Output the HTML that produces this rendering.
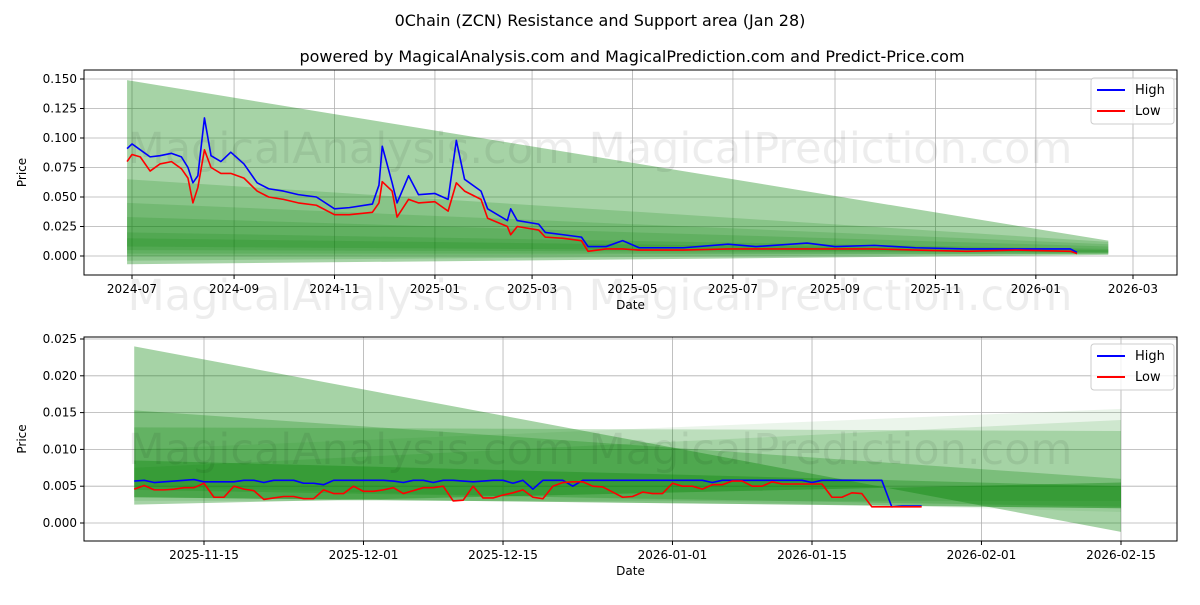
<!DOCTYPE html>
<html><head><meta charset="utf-8"><style>
body{margin:0;background:#fff;}
svg text{font-family:"DejaVu Sans","Liberation Sans",sans-serif;}
</style></head><body>
<svg id="c" width="1200" height="600" xmlns="http://www.w3.org/2000/svg">
<rect width="1200" height="600" fill="#fff"/>
<text x="600" y="26" text-anchor="middle" font-size="16">0Chain (ZCN) Resistance and Support area (Jan 28)</text>
<text x="632" y="62" text-anchor="middle" font-size="16">powered by MagicalAnalysis.com and MagicalPrediction.com and Predict-Price.com</text>
</svg>
<script>
// ---- top chart data ----
const topDates=["2024-06-28","2024-07-01","2024-07-06","2024-07-12","2024-07-18","2024-07-25","2024-07-31","2024-08-04","2024-08-07","2024-08-10","2024-08-14","2024-08-18","2024-08-24","2024-08-30","2024-09-07","2024-09-15","2024-09-22","2024-10-01","2024-10-10","2024-10-21","2024-11-01","2024-11-10","2024-11-24","2024-11-28","2024-11-30","2024-12-06","2024-12-09","2024-12-16","2024-12-22","2025-01-01","2025-01-09","2025-01-14","2025-01-19","2025-01-29","2025-02-02","2025-02-14","2025-02-16","2025-02-20","2025-03-05","2025-03-09","2025-03-20","2025-03-31","2025-04-04","2025-04-15","2025-04-25","2025-05-05","2025-06-01","2025-06-28","2025-07-15","2025-08-15","2025-09-01","2025-09-25","2025-10-20","2025-11-20","2025-12-20","2026-01-22","2026-01-26"];
const topHigh=[0.091,0.095,0.090,0.084,0.085,0.087,0.084,0.075,0.062,0.068,0.117,0.085,0.080,0.088,0.078,0.062,0.057,0.055,0.052,0.050,0.040,0.041,0.044,0.060,0.093,0.062,0.045,0.068,0.052,0.053,0.048,0.098,0.065,0.055,0.040,0.030,0.040,0.030,0.027,0.020,0.018,0.016,0.008,0.008,0.013,0.007,0.007,0.010,0.008,0.011,0.008,0.009,0.007,0.006,0.006,0.006,0.003];
const topLow=[0.080,0.086,0.084,0.072,0.078,0.080,0.074,0.066,0.045,0.058,0.090,0.075,0.070,0.070,0.066,0.055,0.050,0.048,0.045,0.043,0.035,0.035,0.037,0.045,0.063,0.055,0.033,0.048,0.045,0.046,0.038,0.062,0.055,0.048,0.032,0.025,0.018,0.025,0.022,0.016,0.015,0.013,0.004,0.006,0.006,0.005,0.005,0.006,0.006,0.006,0.006,0.006,0.005,0.004,0.005,0.004,0.002];
const topTicks=["2024-07","2024-09","2024-11","2025-01","2025-03","2025-05","2025-07","2025-09","2025-11","2026-01","2026-03"];
const topYTicks=[0,0.025,0.05,0.075,0.1,0.125,0.15];
const topBandTopStart=[0.149,0.065,0.045,0.033,0.020,0.015];
const topBandBotStart=[-0.007,-0.004,0.000,0.002,0.005,0.008];
const topBandTopEnd=[0.013,0.012,0.010,0.008,0.006,0.005];
const topBandBotEnd=[0.001,0.002,0.002,0.002,0.003,0.003];
// ---- bottom chart data ----
const botStart="2025-11-08";
const botHigh=[0.0057,0.0058,0.0055,0.0056,0.0057,0.0058,0.0059,0.0056,0.0056,0.0056,0.0056,0.0058,0.0058,0.0055,0.0058,0.0058,0.0058,0.0054,0.0054,0.0052,0.0058,0.0058,0.0058,0.0058,0.0058,0.0058,0.0057,0.0055,0.0058,0.0058,0.0055,0.0058,0.0058,0.0057,0.0056,0.0057,0.0058,0.0058,0.0054,0.0058,0.0046,0.0058,0.0058,0.0058,0.0050,0.0058,0.0058,0.0058,0.0058,0.0058,0.0058,0.0058,0.0058,0.0058,0.0058,0.0058,0.0058,0.0058,0.0055,0.0058,0.0058,0.0058,0.0058,0.0058,0.0058,0.0058,0.0058,0.0058,0.0055,0.0058,0.0058,0.0058,0.0058,0.0058,0.0058,0.0058,0.0022,0.0023,0.0023,0.0023];
const botLow=[0.0046,0.0051,0.0045,0.0045,0.0046,0.0048,0.0048,0.0054,0.0035,0.0035,0.0050,0.0046,0.0044,0.0032,0.0034,0.0036,0.0036,0.0033,0.0033,0.0045,0.0040,0.0040,0.0050,0.0043,0.0043,0.0045,0.0048,0.0040,0.0044,0.0048,0.0048,0.0050,0.0030,0.0031,0.0050,0.0034,0.0034,0.0038,0.0041,0.0045,0.0035,0.0033,0.0050,0.0055,0.0056,0.0056,0.0050,0.0049,0.0042,0.0035,0.0036,0.0042,0.0040,0.0040,0.0054,0.0050,0.0050,0.0046,0.0052,0.0052,0.0057,0.0057,0.0050,0.0050,0.0056,0.0053,0.0053,0.0053,0.0053,0.0053,0.0035,0.0035,0.0041,0.0040,0.0022,0.0022,0.0022,0.0022,0.0022,0.0022];
const botTicks=["2025-11-15","2025-12-01","2025-12-15","2026-01-01","2026-01-15","2026-02-01","2026-02-15"];
const botYTicks=[0,0.005,0.01,0.015,0.02,0.025];
const botBandTopStart=[0.024,0.0153,0.0130,0.0100,0.0085,0.0075];
const botBandBotStart=[0.0025,0.0035,0.0045,0.0050,0.0035,0.0030];
const botBandTopEnd=[-0.0012,0.0060,0.0125,0.0155,0.0050,0.0140];
const botBandBotEnd=[0.0055,0.0020,0.0022,0.0015,0.0020,0.0030];
const botBandOpacity=[0.35,0.25,0.2,0.08,0.3,0.12];

const NS="http://www.w3.org/2000/svg";
const svg=document.getElementById('c');
const day=s=>Date.parse(s)/86400000;
function mk(tag,attrs,parent){const e=document.createElementNS(NS,tag);for(const k in attrs)e.setAttribute(k,attrs[k]);(parent||svg).appendChild(e);return e;}

function axes(box,xs,ys,xTicks,yTicks,name){
  const g=mk('g',{});
  
  
  xTicks.forEach(t=>{const x=xs(day(t));
    const l=mk('line',{x1:x,x2:x,y1:box.t,y2:box.b,stroke:'#b0b0b0','stroke-width':0.8},g);
    
    mk('line',{x1:x,x2:x,y1:box.b,y2:box.b+4,stroke:'#000'},g);
    const tx=mk('text',{x:x,y:box.b+18,'text-anchor':'middle','font-size':12},g);tx.textContent=t;
    });
  yTicks.forEach(v=>{const y=ys(v);
    const l=mk('line',{x1:box.l,x2:box.r,y1:y,y2:y,stroke:'#b0b0b0','stroke-width':0.8},g);
    
    mk('line',{x1:box.l-4,x2:box.l,y1:y,y2:y,stroke:'#000'},g);
    const tx=mk('text',{x:box.l-7,y:y+4,'text-anchor':'end','font-size':12},g);tx.textContent=v.toFixed(3);
    });
  const xt=mk('text',{x:(box.l+box.r)/2,y:box.b+34,'text-anchor':'middle','font-size':12},g);xt.textContent='Date';
  
  const cy=(box.t+box.b)/2;
  const yt=mk('text',{x:26,y:cy,'text-anchor':'middle','font-size':12,transform:`rotate(-90 26 ${cy})`},g);yt.textContent='Price';
  
}
function bands(xs,ys,d0,d1,ts,bs,te,be,op,name){
  ts.forEach((_,i)=>{const x0=xs(day(d0)),x1=xs(day(d1));
    const p=mk('polygon',{points:`${x0},${ys(ts[i])} ${x1},${ys(te[i])} ${x1},${ys(be[i])} ${x0},${ys(bs[i])}`,fill:'#008000','fill-opacity':op[i]});
    });
}
function line(pts,color,name){
  const p=mk('polyline',{points:pts.map(q=>q.join(',')).join(' '),fill:'none',stroke:color,'stroke-width':1.6,'stroke-linejoin':'round'});
  
}
function watermark(y,name){
  const t=mk('text',{x:600,y:y,'text-anchor':'middle','font-size':43,fill:'#000','fill-opacity':0.07});
  t.textContent='MagicalAnalysis.com    MagicalPrediction.com';
  
}
function legend(x,y,name){
  const g=mk('g',{});
  mk('rect',{x:x,y:y,width:83,height:46,rx:3,fill:'#fff','fill-opacity':0.8,stroke:'#ccc'},g);
  [['High','#0000ff'],['Low','#ff0000']].forEach((e,i)=>{const yy=y+12+i*21;
    const l=mk('line',{x1:x+6,x2:x+34,y1:yy,y2:yy,stroke:e[1],'stroke-width':2},g);
    
    const t=mk('text',{x:x+44,y:yy+4,'font-size':13},g);t.textContent=e[0];
    });
}
function frame(box,name){const r=mk('rect',{x:box.l,y:box.t,width:box.r-box.l,height:box.b-box.t,fill:'none',stroke:'#000','stroke-width':1});
  }

// top
const tb={l:84,r:1177,t:70,b:275};
const tx0=day("2024-07-01"),tx1=day("2026-03-01");
const txs=d=>132+(d-tx0)*(1133-132)/(tx1-tx0);
const tys=v=>256-v*1180;
axes(tb,txs,tys,topTicks,topYTicks,'top-axes');
bands(txs,tys,"2024-06-28","2026-02-14",topBandTopStart,topBandBotStart,topBandTopEnd,topBandBotEnd,[0.35,0.18,0.15,0.15,0.15,0.15],'top-support-band');
watermark(163,'top-watermark');
line(topDates.map((d,i)=>[txs(day(d)),tys(topHigh[i])]),'#0000ff','top-high-line');
line(topDates.map((d,i)=>[txs(day(d)),tys(topLow[i])]),'#ff0000','top-low-line');
frame(tb,'top-plot-frame');
legend(1091,78,'top-legend');
watermark(310,'middle-watermark');

// bottom
const bb={l:84,r:1177,t:337,b:541};
const bx0=day("2025-11-15"),bx1=day("2026-02-15");
const bxs=d=>204+(d-bx0)*(1121-204)/(bx1-bx0);
const bys=v=>523-v*7360;
axes(bb,bxs,bys,botTicks,botYTicks,'bottom-axes');
bands(bxs,bys,"2025-11-08","2026-02-15",botBandTopStart,botBandBotStart,botBandTopEnd,botBandBotEnd,botBandOpacity,'bottom-support-band');
watermark(464,'bottom-watermark');
const b0=day(botStart);
line(botHigh.map((v,i)=>[bxs(b0+i),bys(v)]),'#0000ff','bottom-high-line');
line(botLow.map((v,i)=>[bxs(b0+i),bys(v)]),'#ff0000','bottom-low-line');
frame(bb,'bottom-plot-frame');
legend(1091,344,'bottom-legend');
</script>
</body></html>
